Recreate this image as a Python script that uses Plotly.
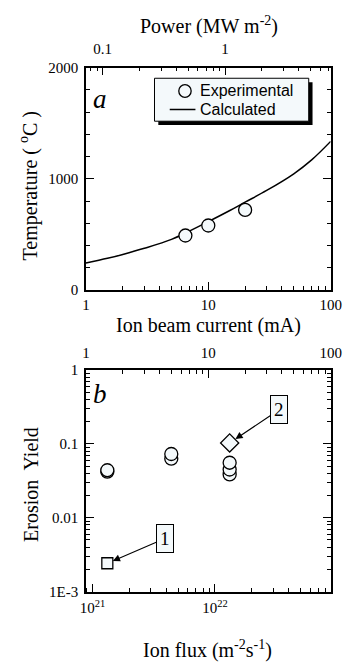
import math
import plotly.graph_objects as go

W, H = 354, 664

# ---------------- data ----------------
# Panel a
calc_current = [1, 1.5, 2, 3, 5, 7, 10, 15, 20, 30, 50, 70, 100]
calc_temp = [243, 285, 320, 375, 455, 530, 615, 715, 790, 895, 1045, 1170, 1336]
exp_current = [6.5, 10, 20]
exp_temp = [490, 580, 720]

# Panel b (x in ion flux, m^-2 s^-1)
circ_flux = [1.32e21, 1.32e21, 4.4e21, 4.4e21, 1.32e22, 1.32e22, 1.32e22]
circ_yield = [0.042, 0.044, 0.063, 0.073, 0.0386, 0.045, 0.0556]
square_flux = [1.32e21]
square_yield = [0.00242]
diamond_flux = [1.32e22]
diamond_yield = [0.103]

# axis ranges / ticks
cur_range = [1, 100]
power_range = [0.073, 7.3]
temp_range = [0, 2000]
flux_range = [8.83e20, 8.83e22]
yield_range = [1e-3, 1]
temp_ticks = [0, 1000, 2000]
cur_ticks = [1, 10, 100]
power_ticks = [0.1, 1]
flux_ticks = [1e21, 1e22]
flux_ticktext = ["10<sup>21</sup>", "10<sup>22</sup>"]
yield_ticks = [1e-3, 0.01, 0.1, 1]
yield_ticktext = ["1E-3", "0.01", "0.1", "1"]

lg = math.log10

SERIF = "Liberation Serif"
SANS = "Liberation Sans"
FILL = "#f4f9fb"


def px(x):
    return x / W


def py(y):
    return 1 - y / H


xdom = [px(84), px(341)]
ydom_a = [py(289), py(61)]
ydom_b = [py(598), py(371)]

fig = go.Figure()

fig.add_trace(go.Scatter(x=calc_current, y=calc_temp, mode="lines",
                         line=dict(color="black", width=1.5, shape="spline"),
                         xaxis="x", yaxis="y", showlegend=False, hoverinfo="skip"))
fig.add_trace(go.Scatter(x=exp_current, y=exp_temp, mode="markers",
                         marker=dict(symbol="circle", size=13, color=FILL,
                                     line=dict(color="black", width=1.3)),
                         xaxis="x", yaxis="y", showlegend=False))
# invisible anchors so the top axes are drawn
fig.add_trace(go.Scatter(x=power_range, y=temp_range, mode="markers",
                         marker=dict(opacity=0), xaxis="x2", yaxis="y",
                         showlegend=False, hoverinfo="skip"))

fig.add_trace(go.Scatter(x=circ_flux, y=circ_yield, mode="markers",
                         marker=dict(symbol="circle", size=13, color=FILL,
                                     line=dict(color="black", width=1.3)),
                         xaxis="x3", yaxis="y2", showlegend=False))
fig.add_trace(go.Scatter(x=square_flux, y=square_yield, mode="markers",
                         marker=dict(symbol="square", size=11, color=FILL,
                                     line=dict(color="black", width=1.3)),
                         xaxis="x3", yaxis="y2", showlegend=False))
fig.add_trace(go.Scatter(x=diamond_flux, y=diamond_yield, mode="markers",
                         marker=dict(symbol="diamond", size=14, color=FILL,
                                     line=dict(color="black", width=1.3)),
                         xaxis="x3", yaxis="y2", showlegend=False))
fig.add_trace(go.Scatter(x=cur_range, y=yield_range, mode="markers",
                         marker=dict(opacity=0), xaxis="x4", yaxis="y2",
                         showlegend=False, hoverinfo="skip"))

tickfont = dict(family=SERIF, size=15, color="black")
common = dict(showline=True, linecolor="black", linewidth=1.5, ticks="inside",
              ticklen=8, tickwidth=1.2, tickcolor="black", showgrid=False,
              zeroline=False, tickfont=tickfont)
minor_log = dict(ticks="inside", ticklen=4, tickwidth=1, tickcolor="black",
                 dtick="D1", showgrid=False)

layout = dict(
    width=W, height=H,
    margin=dict(l=0, r=0, t=0, b=0),
    paper_bgcolor="white", plot_bgcolor="white",
    showlegend=False,
    xaxis=dict(domain=xdom, anchor="y", type="log",
               range=[lg(cur_range[0]), lg(cur_range[1])],
               tickvals=cur_ticks, ticktext=[str(v) for v in cur_ticks],
               mirror=False, minor=minor_log, **common),
    xaxis2=dict(overlaying="x", anchor="y", side="top", type="log",
                range=[lg(power_range[0]), lg(power_range[1])],
                tickvals=power_ticks, ticktext=["0.1", "1"],
                ticklabelstandoff=6, minor=minor_log, **common),
    yaxis=dict(domain=ydom_a, anchor="x", range=temp_range,
               tickvals=temp_ticks, mirror="ticks", ticklabelstandoff=3,
               minor=dict(ticks="inside", ticklen=4, tickwidth=1,
                          tickcolor="black", dtick=200, showgrid=False),
               **common),
    xaxis3=dict(domain=xdom, anchor="y2", type="log",
                range=[lg(flux_range[0]), lg(flux_range[1])],
                tickvals=flux_ticks, ticktext=flux_ticktext,
                ticklabelstandoff=2,
                mirror=False, minor=minor_log, **common),
    xaxis4=dict(overlaying="x3", anchor="y2", side="top", type="log",
                range=[lg(cur_range[0]), lg(cur_range[1])],
                tickvals=cur_ticks, ticktext=[str(v) for v in cur_ticks],
                ticklabelstandoff=4, minor=minor_log, **common),
    yaxis2=dict(domain=ydom_b, anchor="x3", type="log",
                range=[lg(yield_range[0]), lg(yield_range[1])],
                tickvals=yield_ticks, ticktext=yield_ticktext,
                ticklabelstandoff=3,
                mirror="ticks", minor=minor_log, **common),
)
fig.update_layout(**layout)

ann = []
titlefont = dict(family=SERIF, size=20, color="black")


def label(text, x, y, font, angle=0):
    return dict(text=text, x=px(x), y=py(y), xref="paper", yref="paper",
                showarrow=False, font=font, textangle=angle,
                xanchor="center", yanchor="middle")


ann.append(label("Power (MW m<sup>-2</sup>)", 213, 18, titlefont))
ann.append(label("Ion beam current (mA)", 213, 325, titlefont))
ann.append(label("Temperature ( <sup>o</sup>C )", 24, 182, dict(family=SERIF, size=20, color="black"), -90))
ann.append(label("Erosion  Yield", 27, 488, titlefont, -90))
ann.append(label("Ion flux (m<sup>-2</sup>s<sup>-1</sup>)", 212, 657, titlefont))
ann.append(label("<i>a</i>", 99, 93, dict(family=SERIF, size=27, color="black")))
ann.append(label("<i>b</i>", 99, 396, dict(family=SERIF, size=27, color="black")))

# numbered callouts
ann.append(dict(text="2", x=lg(diamond_flux[0]), y=lg(diamond_yield[0]), xref="x3", yref="y2",
                showarrow=True, ax=49, ay=-33, arrowhead=2, arrowsize=1.3, arrowwidth=1.1,
                standoff=7, bgcolor=FILL, bordercolor="black", borderwidth=1, borderpad=3,
                font=dict(family=SERIF, size=19, color="black"), arrowcolor="black"))
ann.append(dict(text="1", x=lg(square_flux[0]), y=lg(square_yield[0]), xref="x3", yref="y2",
                showarrow=True, ax=58, ay=-25, arrowhead=2, arrowsize=1.3, arrowwidth=1.1,
                standoff=6, bgcolor=FILL, bordercolor="black", borderwidth=1, borderpad=3,
                font=dict(family=SERIF, size=19, color="black"), arrowcolor="black"))

# legend (manual)
legfont = dict(family=SANS, size=16, color="black")
ann.append(dict(text="Experimental", x=px(202), y=py(85), xref="paper", yref="paper",
                showarrow=False, font=legfont, xanchor="left", yanchor="middle"))
ann.append(dict(text="Calculated", x=px(202), y=py(104), xref="paper", yref="paper",
                showarrow=False, font=legfont, xanchor="left", yanchor="middle"))
fig.update_layout(annotations=ann)

shapes = [
    dict(type="rect", xref="paper", yref="paper", x0=px(160), x1=px(322), y0=py(120), y1=py(76),
         fillcolor="black", line=dict(width=0)),
    dict(type="rect", xref="paper", yref="paper", x0=px(156), x1=px(318), y0=py(116), y1=py(72),
         fillcolor=FILL, line=dict(color="black", width=1)),
    dict(type="circle", xref="paper", yref="paper", x0=px(181.5), x1=px(194.5), y0=py(91.5), y1=py(78.5),
         fillcolor=FILL, line=dict(color="black", width=1.3)),
    dict(type="line", xref="paper", yref="paper", x0=px(172), x1=px(199), y0=py(104), y1=py(104),
         line=dict(color="black", width=1.5)),
]
fig.update_layout(shapes=shapes)

fig.write_html("out.html", config={"displayModeBar": False},
               post_script="document.body.style.margin='0px';")
